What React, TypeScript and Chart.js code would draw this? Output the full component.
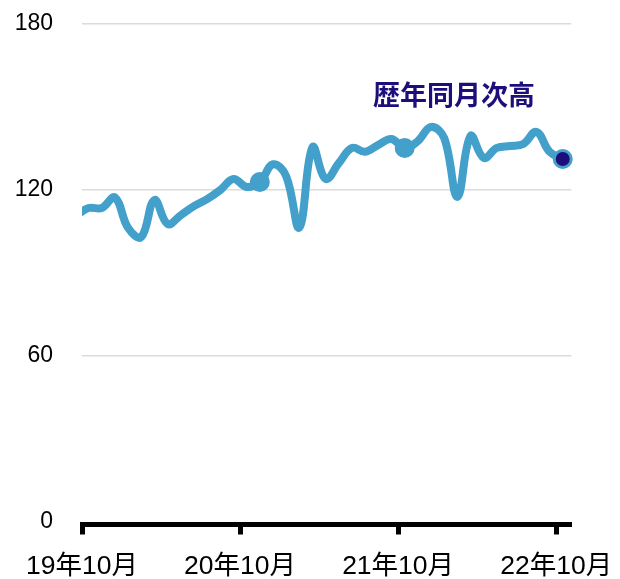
import React, { useEffect, useRef } from "react";
import { Chart, registerables } from "chart.js";

Chart.register(...registerables);

// ---- data ----
const months = [
  "19年9月", "19年10月", "19年11月", "19年12月",
  "20年1月", "20年2月", "20年3月", "20年4月", "20年5月", "20年6月",
  "20年7月", "20年8月", "20年9月", "20年10月", "20年11月", "20年12月",
  "21年1月", "21年2月", "21年3月", "21年4月", "21年5月", "21年6月",
  "21年7月", "21年8月", "21年9月", "21年10月", "21年11月", "21年12月",
  "22年1月", "22年2月", "22年3月", "22年4月", "22年5月", "22年6月",
  "22年7月", "22年8月", "22年9月", "22年10月",
];
const values = [
  110.6, 113.5, 113.5, 117.3,
  106.3, 103.0, 116.4, 107.7, 110.9, 114.2,
  116.7, 120.0, 124.0, 121.1, 122.9, 129.3,
  125.0, 106.4, 135.5, 124.0, 129.7, 135.2,
  133.8, 136.3, 138.4, 135.2, 137.7, 142.8,
  138.8, 117.5, 139.5, 131.6, 135.2, 135.9,
  136.6, 141.0, 133.8, 131.2,
];
const xTickLabels = ["19年10月", "20年10月", "21年10月", "22年10月"];
const xTickMonth = ["19年10月", "20年10月", "21年10月", "22年10月"];
const yTicks = [0, 60, 120, 180];
const highlightMonths = ["20年11月", "21年10月"];
const recordMonth = "22年10月";
const annotationText = "歴年同月次高";

// ---- styles ----
const LINE = "#43a0ca";
const NAVY = "#1d0f7b";
const GRID = "#dcdcdc";
const FONT = "'Liberation Sans', 'Noto Sans CJK JP', sans-serif";

// month offset from the start of 19年10月 (axis origin)
const startIndex = months.indexOf("19年10月");
const monthPos = (label: string) => months.indexOf(label) - startIndex;
const points = values.map((v, i) => ({ x: i - startIndex + 0.5, y: v }));
const xTickValues = xTickMonth.map(monthPos);

const annotationPlugin = {
  id: "annotationText",
  afterDatasetsDraw(chart: any) {
    const { ctx } = chart;
    ctx.save();
    ctx.font = "bold 27px 'Noto Sans CJK JP', sans-serif";
    ctx.fillStyle = NAVY;
    ctx.textAlign = "center";
    ctx.textBaseline = "middle";
    ctx.fillText(annotationText, 454, 95);
    ctx.restore();
  },
};

export default function App() {
  const ref = useRef<HTMLCanvasElement | null>(null);

  useEffect(() => {
    document.body.style.margin = "0";
    if (!ref.current) return;
    const chart = new Chart(ref.current, {
      type: "line",
      data: {
        datasets: [
          {
            data: points,
            borderColor: LINE,
            borderWidth: 8,
            tension: 0.4,
            fill: false,
            clip: { left: 0, top: false, right: false, bottom: false } as any,
            pointRadius: months.map((m) =>
              m === recordMonth ? 8.5 : highlightMonths.includes(m) ? 10 : 0
            ),
            pointHoverRadius: 0,
            pointBorderWidth: months.map((m) => (m === recordMonth ? 3 : 0)),
            pointBorderColor: LINE,
            pointBackgroundColor: months.map((m) =>
              m === recordMonth ? NAVY : LINE
            ),
          },
        ],
      },
      options: {
        animation: false,
        responsive: false,
        maintainAspectRatio: false,
        devicePixelRatio: 1,
        layout: { padding: { top: 24, right: 48.7, bottom: 0, left: 0 } },
        plugins: {
          legend: { display: false },
          tooltip: { enabled: false },
          title: { display: false },
        },
        scales: {
          x: {
            type: "linear",
            min: 0,
            max: 37.15,
            afterBuildTicks: (scale: any) => {
              scale.ticks = xTickValues.map((v) => ({ value: v }));
            },
            afterFit: (scale: any) => {
              scale.height = 54.5;
              scale.paddingLeft = 0;
              scale.paddingRight = 0;
            },
            ticks: {
              autoSkip: false,
              maxRotation: 0,
              padding: 16,
              color: "#000",
              font: { family: FONT, size: 26.5 },
              callback: (value: any) => {
                const i = xTickValues.indexOf(Number(value));
                return i >= 0 ? xTickLabels[i] : "";
              },
            },
            grid: {
              drawOnChartArea: false,
              drawTicks: true,
              tickLength: 10,
              tickWidth: 5,
              tickColor: "#000",
            },
            border: { display: true, width: 5, color: "#000" },
          },
          y: {
            type: "linear",
            min: -0.9,
            max: 180,
            afterBuildTicks: (scale: any) => {
              scale.ticks = yTicks.map((v) => ({ value: v }));
            },
            afterFit: (scale: any) => {
              scale.width = 82;
              scale.paddingTop = 0;
              scale.paddingBottom = 0;
            },
            ticks: {
              padding: 29,
              color: "#000",
              font: { family: FONT, size: 23 },
              callback: (value: any) => String(value),
            },
            grid: {
              drawTicks: false,
              lineWidth: 1.5,
              color: (c: any) =>
                c.tick && c.tick.value === 0 ? "rgba(0,0,0,0)" : GRID,
            },
            border: { display: false },
          },
        },
      },
      plugins: [annotationPlugin],
    });
    return () => chart.destroy();
  }, []);

  return (
    <div style={{ width: 620, height: 579 }}>
      <canvas ref={ref} width={620} height={579} style={{ display: "block" }} />
    </div>
  );
}
